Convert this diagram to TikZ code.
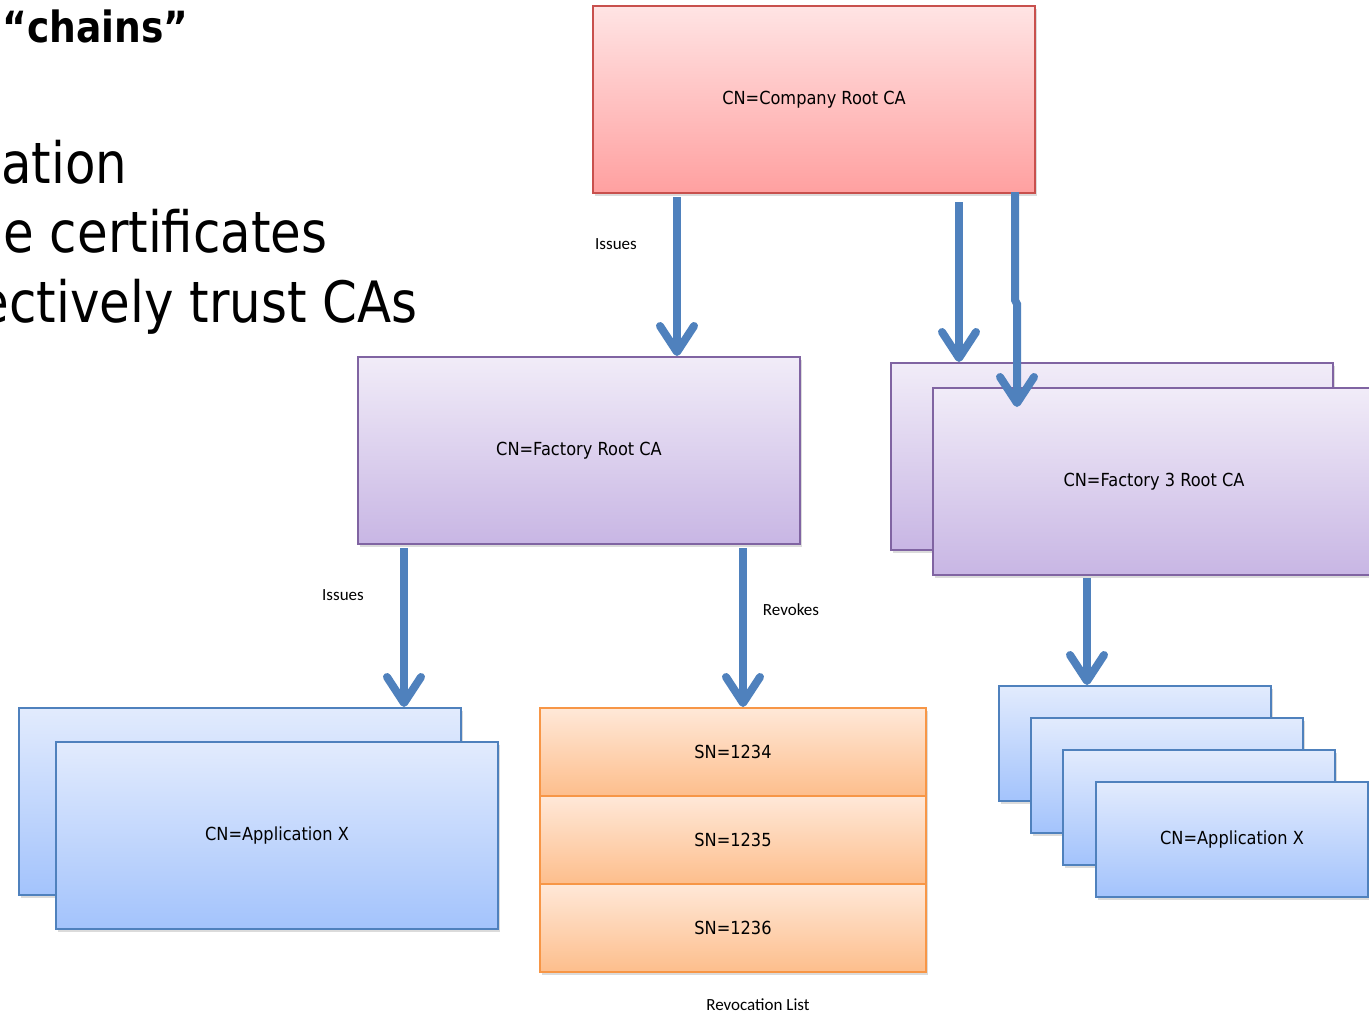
\documentclass[tikz,border=0pt]{standalone}
\usepackage{fontspec}
\setmainfont{DejaVu Sans}[FakeStretch=0.9]
\newfontfamily\headfont{DejaVu Sans}[FakeStretch=0.875]
\newfontfamily\labelfont{Carlito}
\usetikzlibrary{calc,arrows.meta,shadows}

\definecolor{linkblue}{RGB}{79,129,189}
\definecolor{redline}{RGB}{200,80,77}
\definecolor{redtop}{RGB}{255,228,228}
\definecolor{redbot}{RGB}{255,160,160}
\definecolor{purpleline}{RGB}{128,100,162}
\definecolor{purpletop}{RGB}{241,236,248}
\definecolor{purplebot}{RGB}{200,182,228}
\definecolor{blueline}{RGB}{79,129,189}
\definecolor{bluetop}{RGB}{226,235,253}
\definecolor{bluebot}{RGB}{163,195,252}
\definecolor{orangeline}{RGB}{247,150,70}
\definecolor{orangetop}{RGB}{255,232,216}
\definecolor{orangebot}{RGB}{253,190,140}

\begin{document}
\begin{tikzpicture}[x=0.5pt,y=-0.5pt,
  box/.style={draw, line width=1pt, inner sep=0pt, anchor=north west,
    font=\fontsize{9}{11}\selectfont,
    drop shadow={shadow xshift=1.2pt, shadow yshift=-1.5pt, opacity=0.28}},
  redbox/.style={box, draw=redline, top color=redtop, bottom color=redbot,
    minimum width=221pt, minimum height=93.5pt},
  purplebox/.style={box, draw=purpleline, top color=purpletop, bottom color=purplebot,
    minimum width=221pt, minimum height=93.5pt},
  bluebox/.style={box, draw=blueline, top color=bluetop, bottom color=bluebot,
    minimum width=221pt, minimum height=93.5pt},
  smallblue/.style={box, draw=blueline, top color=bluetop, bottom color=bluebot,
    minimum width=136pt, minimum height=57.5pt},
  rlbox/.style={box, draw=orangeline, top color=orangetop, bottom color=orangebot,
    minimum width=193pt, minimum height=44pt},
  link/.style={draw=linkblue, line width=4pt,
    -{Straight Barb[length=13pt,width=17pt,line cap=round,line join=round]}},
  lbl/.style={font=\labelfont\fontsize{8.5}{10}\selectfont, inner sep=0pt},
  headline/.style={inner sep=0pt, font=\headfont\fontsize{28.5}{34}\selectfont}
]
\useasboundingbox (0,0) rectangle (1369,1013);
\clip (0,0) rectangle (1369,1013);
\fill[white] (0,0) rectangle (1369,1013);

% slide text running off the left edge
\node[inner sep=0pt, anchor=base west, font=\headfont\bfseries\fontsize{21.5}{26}\selectfont] (title) at (2,42) {“chains”};
\node[headline, anchor=base west] (line1) at (1,183) {ation};
\node[headline, anchor=base east] (line2) at (328,252) {e certificates};
\node[headline, anchor=base east] (line3) at (418,322) {ectively trust CAs};

% certificate authorities
\node[redbox] (company) at (592,5) {CN=Company Root CA};
\node[purplebox] (froot) at (357,356) {CN=Factory Root CA};
\node[purplebox] (f3back) at (890,362) {};
\node[purplebox] (f3front) at (932,387) {CN=Factory 3 Root CA};

% application certificates, left branch
\node[bluebox] (appback) at (18,707) {};
\node[bluebox] (appfront) at (55,741) {CN=Application X};

% revocation list
\node[rlbox] (rl1) at (539,707) {SN=1234};
\node[rlbox] (rl2) at (539,795) {SN=1235};
\node[rlbox] (rl3) at (539,883) {SN=1236};
\node[lbl] (rllabel) at (758,1005) {Revocation List};

% application certificates, right branch
\node[smallblue] (ra1) at (998,685) {};
\node[smallblue] (ra2) at (1030,717) {};
\node[smallblue] (ra3) at (1062,749) {};
\node[smallblue] (ra4) at (1095,781) {CN=Application X};

% connectors
\draw[link] ($(company.south west)+(85,3)$) -- ($(froot.north west)+(320,0)$);
\draw[link] ($(company.south west)+(367,8)$) -- ($(f3back.north west)+(69,0)$);
\draw[link] ($(company.south west)+(423,-2)$) -- ($(company.south west)+(423,106)$)
  -- ($(company.south west)+(425,110)$) -- ($(f3front.north west)+(85,20)$);
\draw[link] ($(froot.south west)+(47,3)$) -- ($(appback.north west)+(386,0)$);
\draw[link] ($(froot.south west)+(386,3)$) -- ($(rl1.north west)+(204,0)$);
\draw[link] ($(f3front.south west)+(155,2)$) -- ($(ra1.north west)+(89,0)$);

% connector labels
\node[lbl] (iss1) at (616,244) {Issues};
\node[lbl] (iss2) at (343,595) {Issues};
\node[lbl] (rev) at (791,610) {Revokes};
\end{tikzpicture}
\end{document}
